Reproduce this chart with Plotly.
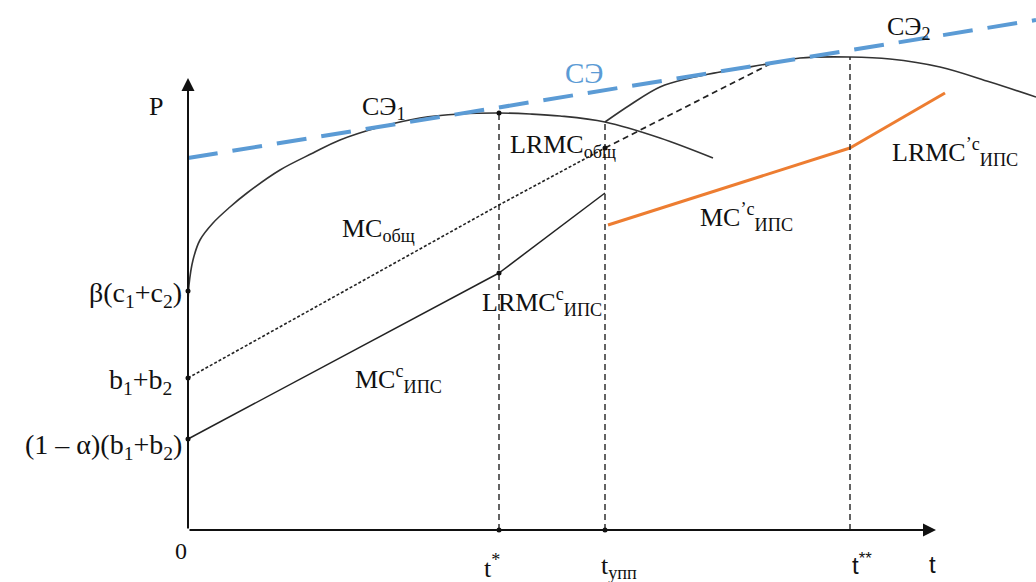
import plotly.graph_objects as go

# --- model values (t horizontal, P vertical, origin at 0) ---
t_star, t_upp, t_2star = 311, 417, 662
t_axis_end, p_axis_end = 748, 452

# price levels on the P axis
p_b = 152          # b1+b2
p_alpha_b = 91     # (1-α)(b1+b2)
p_beta_c = 239     # β(c1+c2)

# marginal cost of the ИПС (solid) and its long-run branch
mc_ips_t = [0, t_star]
mc_ips_p = [p_alpha_b, 257]
lrmc_ips_t = [t_star, t_upp]
lrmc_ips_p = [257, 337]

# total marginal cost (dotted) and long-run branch (dashed)
mc_tot_t = [0, t_star, t_upp]
mc_tot_p = [p_b, 325, 382]
lrmc_tot_t = [t_upp, 582]
lrmc_tot_p = [382, 466]

# new ИПС marginal cost (orange)
mc_new_t = [420, t_2star]
mc_new_p = [305, 382]
lrmc_new_t = [t_2star, 757]
lrmc_new_p = [382, 437]

# envelope СЭ
env_t = [0, 848]
env_p = [372, 510]

# СЭ1 curve
se1_t = [0, 1, 5, 12, 25, 42, 59, 92, 125, 152, 192, 232, 272, 311, 342, 372, 417, 472, 525]
se1_p = [225, 245, 270, 290, 307, 323, 337, 360, 377, 390, 403, 412, 416, 417, 416, 414, 408, 392, 372]

# СЭ2 curve
se2_t = [417, 442, 472, 502, 532, 585, 612, 662, 702, 752, 802, 848]
se2_p = [408, 425, 443, 452, 458, 467, 472, 473, 471, 463, 448, 433]

BLACK = "#111111"
BLUE = "#5B9BD5"
ORANGE = "#ED7D31"
SERIF = "Liberation Serif, Times New Roman, serif"
SANS = "Liberation Sans, Arial, sans-serif"

fig = go.Figure()


def line(t, p, color="#222222", width=1.5, dash="solid", shape="linear"):
    fig.add_trace(go.Scatter(x=t, y=p, mode="lines", hoverinfo="skip",
                             line=dict(color=color, width=width, dash=dash,
                                       shape=shape, smoothing=1.0)))


# curves
line(se1_t, se1_p, width=1.6, color="#333333", shape="spline")
line(se2_t, se2_p, width=1.6, color="#333333", shape="spline")
line(mc_ips_t, mc_ips_p)
line(lrmc_ips_t, lrmc_ips_p)
line(mc_tot_t, mc_tot_p, width=1.6, dash="3px,2px")
line(lrmc_tot_t, lrmc_tot_p, width=1.7, dash="6px,4px")
line(mc_new_t, mc_new_p, color=ORANGE, width=3)
line(lrmc_new_t, lrmc_new_p, color=ORANGE, width=3)
line(env_t, env_p, color=BLUE, width=4, dash="30px,15px")

# vertical guides at t*, t_упп, t**
guide_tops = {t_star: 417, t_upp: 408, t_2star: 473}
for tv, top in guide_tops.items():
    line([tv, tv], [0, top], width=1.4, dash="6px,4px")

# marker dots
dot_t = [0, 0, 0, t_star, t_star, t_star, t_upp, t_upp]
dot_p = [p_beta_c, p_b, p_alpha_b, 257, 0, 417, 0, 382]
fig.add_trace(go.Scatter(x=dot_t, y=dot_p, mode="markers", hoverinfo="skip",
                         marker=dict(color=BLACK, size=5)))

# axes with arrows
for (x0, y0, x1, y1) in [(0, 0, 0, p_axis_end), (0, 0, t_axis_end, 0)]:
    fig.add_annotation(x=x1, y=y1, ax=x0, ay=y0, xref="x", yref="y",
                       axref="x", ayref="y", showarrow=True, arrowhead=2,
                       arrowsize=1.3, arrowwidth=2, arrowcolor=BLACK, text="")


def label(x, y, text, size=26, color=BLACK, font=SERIF, anchor="left"):
    fig.add_annotation(x=x, y=y, xref="x", yref="y", text=text, showarrow=False,
                       xanchor=anchor, yanchor="middle",
                       font=dict(family=font, size=size, color=color))


# axis labels
label(-32, 424, "P", size=26, anchor="center")
label(-7, -21, "0", size=24, anchor="center")
label(-4, p_beta_c - 3, "β(c<sub>1</sub>+c<sub>2</sub>)", size=28, anchor="right")
label(-14, p_b - 3, "b<sub>1</sub>+b<sub>2</sub>", size=28, anchor="right")
label(-4, p_alpha_b - 7, "(1 – α)(b<sub>1</sub>+b<sub>2</sub>)", size=28, anchor="right")
label(t_star - 7, -36, "t<sup>*</sup>", size=26, anchor="center")
label(t_upp - 6, -37, "t<sub>упп</sub>", size=26, anchor="left")
label(t_2star + 12, -34, "t<sup>**</sup>", font=SANS, size=24, anchor="center")
label(744, -34, "t", font=SANS, size=24, anchor="center")

# curve labels
label(172, 422, "СЭ<sub>1</sub>")
label(375, 457, "СЭ", color=BLUE, size=29)
label(697, 502, "СЭ<sub>2</sub>")
label(320, 384, "LRMC<sub>общ</sub>")
label(152, 300, "MC<sub>общ</sub>")
label(292, 228, "LRMC<sup>c</sup><sub>ИПС</sub>")
label(165, 151, "MC<sup>c</sup><sub>ИПС</sub>")
label(510, 313, "MC<sup>’c</sup><sub>ИПС</sub>")
label(702, 378, "LRMC<sup>’c</sup><sub>ИПС</sub>")

fig.update_layout(
    width=1036, height=582, autosize=False,
    margin=dict(l=0, r=0, t=0, b=0),
    paper_bgcolor="white", plot_bgcolor="white",
    showlegend=False,
    xaxis=dict(range=[-188, 848], visible=False, fixedrange=True),
    yaxis=dict(range=[-52, 530], visible=False, fixedrange=True),
)

fig.write_html("out.html", config={"displayModeBar": False})
